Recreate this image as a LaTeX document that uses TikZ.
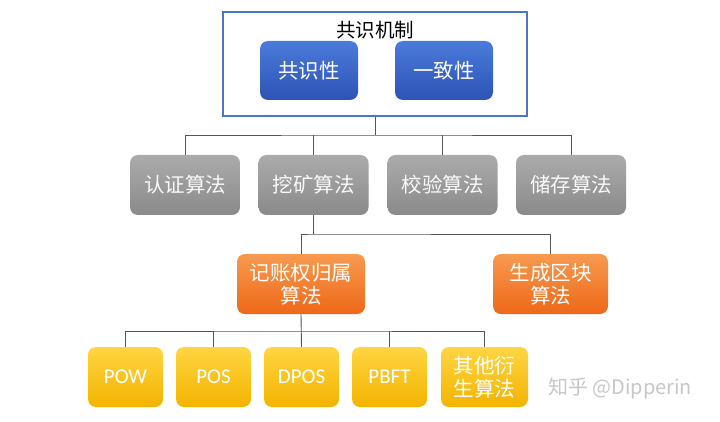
\documentclass[tikz,border=0pt]{standalone}
\usepackage{fontspec}
\setmainfont{Noto Sans CJK SC}
\newfontfamily\latinfont{Carlito}
\definecolor{frameblue}{HTML}{4A74D0}
\definecolor{blueT}{HTML}{4B7BDA}
\definecolor{blueB}{HTML}{2C53B5}
\definecolor{grayT}{HTML}{ABABAB}
\definecolor{grayB}{HTML}{8A8A8A}
\definecolor{orangeT}{HTML}{F89A50}
\definecolor{orangeB}{HTML}{EE6818}
\definecolor{yellowT}{HTML}{FFD542}
\definecolor{yellowB}{HTML}{F3B300}
\definecolor{linegray}{HTML}{555555}
\tikzset{
  box/.style={rounded corners=8pt, inner sep=2pt, align=center, text=white,
    font=\fontsize{20.5}{23.5}\selectfont, minimum height=60pt},
  bluebox/.style={box, top color=blueT, bottom color=blueB, minimum width=98pt, minimum height=59pt},
  graybox/.style={box, top color=grayT, bottom color=grayB, minimum width=110pt, text=white!95!gray},
  orangebox/.style={box, top color=orangeT, bottom color=orangeB},
  yellowbox/.style={box, top color=yellowT, bottom color=yellowB, minimum width=75pt},
  latin/.style={font=\latinfont\fontsize{21}{23}\selectfont},
  conn/.style={draw=linegray, line width=0.9pt},
}
\begin{document}
\begin{tikzpicture}[x=1pt,y=-1pt]
\useasboundingbox[fill=white] (0,0) rectangle (720,422);
% frame
\node[draw=frameblue, line width=2pt, minimum width=304pt, minimum height=104pt, inner sep=0pt] (frame) at (375,64) {};
\node[font=\fontsize{19.5}{23}\selectfont, text=black] (title) at (375,30) {共识机制};
\node[bluebox] (gsx) at (309,70.5) {共识性};
\node[bluebox] (yzx) at (444,70.5) {一致性};
% level 1
\node[graybox] (g1) at (185,185) {认证算法};
\node[graybox] (g2) at (313.5,185) {挖矿算法};
\node[graybox] (g3) at (442.5,185) {校验算法};
\node[graybox] (g4) at (571,185) {储存算法};
% level 2
\node[orangebox, minimum width=128pt] (o1) at (301,284) {记账权归属\\算法};
\node[orangebox, minimum width=115pt] (o2) at (550.5,284) {生成区块\\算法};
% level 3
\node[yellowbox, latin] (y1) at (125.5,377) {POW};
\node[yellowbox, latin] (y2) at (213.5,377) {POS};
\node[yellowbox, latin] (y3) at (301.5,377) {DPOS};
\node[yellowbox, latin] (y4) at (389.5,377) {PBFT};
\node[yellowbox, minimum width=87pt] (y5) at (484.5,377) {其他衍\\生算法};
% watermark
\node[text=black!22, font=\fontsize{20}{22}\selectfont, inner sep=0pt] (wm) at (620,388) {知乎 @Dipperin};
% connectors
\coordinate (j1) at (375,135);
\draw[conn] (frame.south) -- (j1);
\draw[conn] (g1.north) |- (j1) -| (g4.north);
\draw[conn] (g2.north) -- (g2.north |- j1);
\draw[conn] (g3.north) -- (g3.north |- j1);
\coordinate (j2) at (313.5,234);
\draw[conn] (g2.south) -- (j2);
\draw[conn] (o1.north) |- (j2) -| (o2.north);
\coordinate (j3) at (301,331);
\draw[conn] (o1.south) -- (y3.north);
\draw[conn] (y1.north) |- (j3) -| (y5.north);
\draw[conn] (y2.north) -- (y2.north |- j3);
\draw[conn] (y4.north) -- (y4.north |- j3);
\end{tikzpicture}
\end{document}
